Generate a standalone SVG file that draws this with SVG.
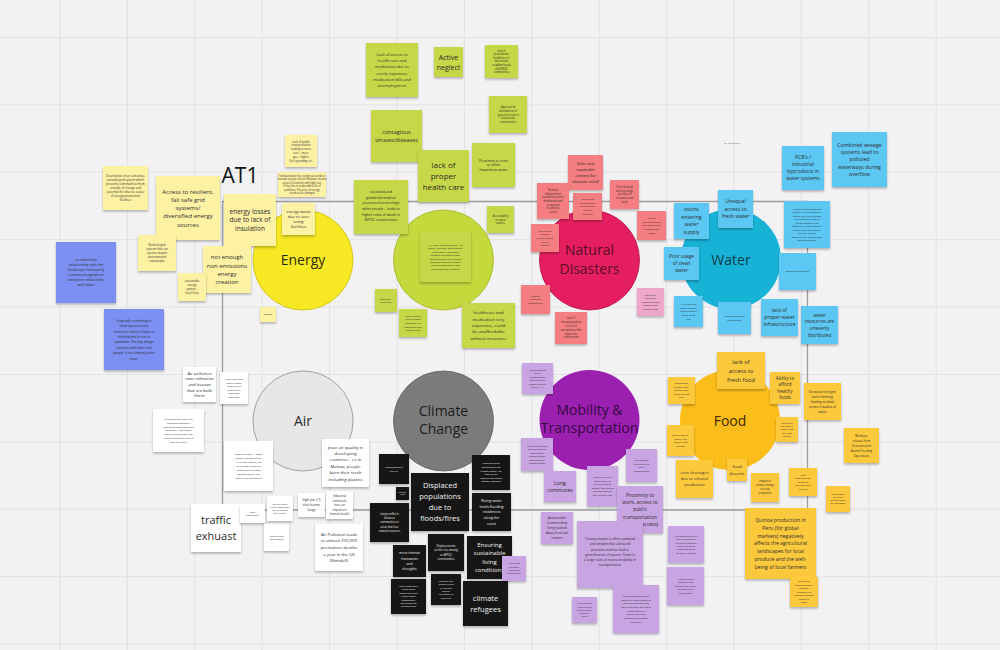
<svg xmlns="http://www.w3.org/2000/svg" width="1000" height="650" viewBox="0 0 1000 650">
<defs>
<filter id="sh" x="-20%" y="-20%" width="140%" height="150%"><feDropShadow dx="0" dy="1.6" stdDeviation="1.2" flood-color="#000" flood-opacity="0.28"/></filter>
<style>
text{font-family:"Open Sans","Liberation Sans",sans-serif;text-anchor:middle;fill:#2c2c2c}
.grid{stroke:#e1e1e6;stroke-width:1;fill:none}
.axis{stroke:#9c9c9c;stroke-width:1.3;fill:none}
.note rect{filter:url(#sh)}
.ey rect{fill:#fdf2a4}
.bl rect{fill:#7c8ff2}
.gr rect{fill:#c6d747}
.pk rect{fill:#f47e80}
.pl rect{fill:#eea7cb}
.wb rect{fill:#5cc7f3}
.fo rect{fill:#fcc93d}
.wh rect{fill:#ffffff}
.bk rect{fill:#121212}
.bk text{fill:#f4f4f4}
.lv rect{fill:#c9a4e2}
.lbl{font-size:14px}
</style>
</defs>
<rect width="1000" height="650" fill="#f2f2f4"/>
<path class="grid" d="M60 0V650M127.4 0V650M194.8 0V650M262.2 0V650M329.6 0V650M397 0V650M464.4 0V650M531.8 0V650M599.2 0V650M666.6 0V650M734 0V650M801.4 0V650M868.8 0V650M936.2 0V650M0 37.5H1000M0 104.9H1000M0 172.3H1000M0 239.7H1000M0 307.1H1000M0 374.5H1000M0 441.9H1000M0 509.3H1000M0 576.7H1000M0 644.1H1000"/>
<g id="connectors">
<path class="axis" d="M222.5 201.5H807.5V510H222.5Z"/>
</g>
<text x="240" y="183" style="font-size:21px;fill:#111">AT1</text>
<g id="circle-energy"><circle cx="303" cy="260" r="50" fill="#f6e823" stroke="#c9bb10" stroke-width="0.8"/><text class="lbl" x="303" y="265" style="fill:#2e2a00">Energy</text></g>
<g id="circle-health"><circle cx="443.5" cy="260" r="50" fill="#c4d93c" stroke="#a2b526" stroke-width="0.8"/></g>
<g id="circle-disasters"><circle cx="589.5" cy="260" r="50" fill="#e51f5f" stroke="#b8124a" stroke-width="0.8"/><text class="lbl" x="589.5" y="255" style="fill:#5a0b28">Natural<tspan x="589.5" dy="19">Disasters</tspan></text></g>
<g id="circle-water"><circle cx="731" cy="259" r="50" fill="#17b3d7"/><text class="lbl" x="731" y="265" style="fill:#0b3c4c">Water</text></g>
<g id="circle-air"><circle cx="303" cy="421" r="50" fill="#e7e7e7" stroke="#8e8e8e" stroke-width="0.8"/><text class="lbl" x="303" y="426">Air</text></g>
<g id="circle-climate"><circle cx="443.5" cy="421" r="50" fill="#7b7b7b" stroke="#5e5e5e" stroke-width="0.8"/><text class="lbl" x="443.5" y="416" style="fill:#1b1b1b">Climate<tspan x="443.5" dy="18">Change</tspan></text></g>
<g id="circle-mobility"><circle cx="589.5" cy="420" r="50" fill="#9b20b0"/><text class="lbl" x="589.5" y="415" style="fill:#35093f">Mobility &amp;<tspan x="589.5" dy="18">Transportation</tspan></text></g>
<g id="circle-food"><circle cx="730" cy="420" r="50" fill="#fbbd19"/><text class="lbl" x="730" y="426" style="fill:#3a2a00">Food</text></g>

<g id="E1" class="note ey"><rect x="103" y="166" width="45" height="44"/><text style="font-size:3px" x="125.5" y="177.1">Description of an extractive<tspan x="125.5" dy="4">national grid system which</tspan><tspan x="125.5" dy="4">prevents communities from</tspan><tspan x="125.5" dy="4">a mode of change and</tspan><tspan x="125.5" dy="4">potential for diverse scales</tspan><tspan x="125.5" dy="4">of energy production</tspan><tspan x="125.5" dy="4">facilities</tspan></text></g>
<g id="E2" class="note ey"><rect x="156" y="176" width="64" height="64"/><text style="font-size:6px" x="188" y="193.5">Access to resilient,<tspan x="188" dy="8.3">fail safe grid</tspan><tspan x="188" dy="8.3">systems/</tspan><tspan x="188" dy="8.3">diversified energy</tspan><tspan x="188" dy="8.3">sources</tspan></text></g>
<g id="E5" class="note ey"><rect x="285" y="135" width="32" height="32"/><text style="font-size:2.8px" x="301" y="142.5">Lack of public<tspan x="301" dy="3.8">transportation</tspan><tspan x="301" dy="3.8">leading to more</tspan><tspan x="301" dy="3.8">cars + more</tspan><tspan x="301" dy="3.8">gas = higher</tspan><tspan x="301" dy="3.8">fuel spending etc.</tspan></text></g>
<g id="E6" class="note ey"><rect x="278" y="172" width="48" height="25"/><text style="font-size:2.6px" x="302" y="176.9">Transportation for energy use tends to<tspan x="302" dy="3.4">increase people of less fortunate income</tspan><tspan x="302" dy="3.4">areas if electricity with high cost</tspan><tspan x="302" dy="3.4">if they live in areas with a lot of</tspan><tspan x="302" dy="3.4">pollution. The price of energy</tspan><tspan x="302" dy="3.4">needs to be changed</tspan></text></g>
<g id="E3" class="note ey"><rect x="224" y="194" width="52" height="52"/><text style="font-size:6.5px" x="250" y="213.8">energy losses<tspan x="250" dy="8.5">due to lack of</tspan><tspan x="250" dy="8.5">insulation</tspan></text></g>
<g id="E4" class="note ey"><rect x="282" y="203" width="33" height="32"/><text style="font-size:4px" x="298.5" y="212.6">energy waste<tspan x="298.5" dy="5.2">due to over</tspan><tspan x="298.5" dy="5.2">using</tspan><tspan x="298.5" dy="5.2">facilities</tspan></text></g>
<g id="E7" class="note ey"><rect x="138" y="235" width="38" height="36"/><text style="font-size:2.8px" x="157" y="246.4">Resilient grid<tspan x="157" dy="3.8">systems that can</tspan><tspan x="157" dy="3.8">operate despite</tspan><tspan x="157" dy="3.8">environmental</tspan><tspan x="157" dy="3.8">catastrophe</tspan></text></g>
<g id="E8" class="note ey"><rect x="203" y="246" width="48" height="47"/><text style="font-size:6px" x="227" y="259.2">not enough<tspan x="227" dy="8.3">non emissions</tspan><tspan x="227" dy="8.3">energy</tspan><tspan x="227" dy="8.3">creation</tspan></text></g>
<g id="E9" class="note ey"><rect x="178" y="273" width="28" height="28"/><text style="font-size:2.8px" x="192" y="282.3">sustainable<tspan x="192" dy="3.8">energy</tspan><tspan x="192" dy="3.8">options -</tspan><tspan x="192" dy="3.8">fossil fuels</tspan></text></g>
<g id="E10" class="note ey"><rect x="260" y="307" width="16" height="15"/><text style="font-size:2.2px" x="268" y="315.3">mapping</text></g>

<g id="B1" class="note bl"><rect x="56" y="242" width="60" height="61"/><text style="font-size:3.6px" x="86" y="261.3">an extractive<tspan x="86" dy="5">relationship with the</tspan><tspan x="86" dy="5">landscape necessarily</tspan><tspan x="86" dy="5">coexists alongside an</tspan><tspan x="86" dy="5">extractive relationship</tspan><tspan x="86" dy="5">with labor</tspan></text></g>
<g id="B2" class="note bl"><rect x="104" y="309" width="60" height="61"/><text style="font-size:3.2px" x="134" y="321.7">Especially something to<tspan x="134" dy="5.4">think about are the</tspan><tspan x="134" dy="5.4">extractive nature of labor in</tspan><tspan x="134" dy="5.4">the field and its ties to</tspan><tspan x="134" dy="5.4">capitalism. The way design</tspan><tspan x="134" dy="5.4">interacts with labor and</tspan><tspan x="134" dy="5.4">people. It is a climate justice</tspan><tspan x="134" dy="5.4">issue.</tspan></text></g>

<g id="H1" class="note gr"><rect x="366" y="43" width="52" height="54"/><text style="font-size:4px" x="392" y="55.7">Lack of access to<tspan x="392" dy="6.3">health care and</tspan><tspan x="392" dy="6.3">medication due to</tspan><tspan x="392" dy="6.3">overly expensive</tspan><tspan x="392" dy="6.3">medication bills and</tspan><tspan x="392" dy="6.3">unemployment</tspan></text></g>
<g id="H2" class="note gr"><rect x="434" y="47" width="29" height="30"/><text style="font-size:7px" x="448.5" y="59.5">Active<tspan x="448.5" dy="10">neglect</tspan></text></g>
<g id="H3" class="note gr"><rect x="485" y="45" width="33" height="33"/><text style="font-size:2.6px" x="501.5" y="51.6">lack of<tspan x="501.5" dy="3.6">preventative</tspan><tspan x="501.5" dy="3.6">healthcare in</tspan><tspan x="501.5" dy="3.6">low income</tspan><tspan x="501.5" dy="3.6">neighborhoods</tspan><tspan x="501.5" dy="3.6">and BIPOC</tspan><tspan x="501.5" dy="3.6">communities</tspan></text></g>
<g id="H4" class="note gr"><rect x="371" y="110" width="51" height="52"/><text style="font-size:5.6px" x="396.5" y="134.2">contagious<tspan x="396.5" dy="7.5">viruses/diseases</tspan></text></g>
<g id="H5" class="note gr"><rect x="489" y="96" width="38" height="37"/><text style="font-size:2.7px" x="508" y="108.1">Approval &amp;<tspan x="508" dy="3.7">distribution of</tspan><tspan x="508" dy="3.7">general needs in</tspan><tspan x="508" dy="3.7">low income</tspan><tspan x="508" dy="3.7">communities</tspan></text></g>
<g id="H7" class="note gr"><rect x="472" y="143" width="43" height="44"/><text style="font-size:3.6px" x="493.5" y="161.7">Proximity to toxic<tspan x="493.5" dy="4.6">or other</tspan><tspan x="493.5" dy="4.6">hazardous water</tspan></text></g>
<g id="H6" class="note gr"><rect x="418" y="150" width="51" height="52"/><text style="font-size:8px" x="443.5" y="168.1">lack of<tspan x="443.5" dy="10.7">proper</tspan><tspan x="443.5" dy="10.7">health care</tspan></text></g>
<g id="H8" class="note gr"><rect x="354" y="180" width="54" height="54"/><text style="font-size:3.5px" x="381" y="193.2">racialized and<tspan x="381" dy="5.6">gendered medical</tspan><tspan x="381" dy="5.6">practices that privilege</tspan><tspan x="381" dy="5.6">white people – leads to</tspan><tspan x="381" dy="5.6">higher rates of death in</tspan><tspan x="381" dy="5.6">BIPOC communities</tspan></text></g>
<g id="H9" class="note gr"><rect x="487" y="206" width="27" height="27"/><text style="font-size:2.8px" x="500.5" y="216.7">Accessibility<tspan x="500.5" dy="3.8">to open</tspan><tspan x="500.5" dy="3.8">spaces</tspan></text></g>
<g id="H10" class="note gr"><rect x="420" y="232" width="51" height="50"/><text style="font-size:2.3px" x="445.5" y="245.9">Air, Water and Food Quality - air<tspan x="445.5" dy="3.4">quality, pollution, discriminatory</tspan><tspan x="445.5" dy="3.4">drug testing, lead testing</tspan><tspan x="445.5" dy="3.4">between developed vs poor</tspan><tspan x="445.5" dy="3.4">neighborhoods. Their general</tspan><tspan x="445.5" dy="3.4">health and access to healthy</tspan><tspan x="445.5" dy="3.4">and processed foods. Food</tspan><tspan x="445.5" dy="3.4">deserts and lack of healthy</tspan></text></g>
<g id="H11" class="note gr"><rect x="375" y="289" width="22" height="23"/><text style="font-size:2.2px" x="386" y="299.8">Food safety /<tspan x="386" dy="3">health cost</tspan></text></g>
<g id="H12" class="note gr"><rect x="399" y="309" width="28" height="28"/><text style="font-size:2.5px" x="413" y="316.7">Mental health<tspan x="413" dy="3.6">from physical</tspan><tspan x="413" dy="3.6">spaces in the</tspan><tspan x="413" dy="3.6">workplace and</tspan><tspan x="413" dy="3.6">enough time</tspan></text></g>
<g id="H13" class="note gr"><rect x="462" y="303" width="53" height="45"/><text style="font-size:4.3px" x="488.5" y="314.4">healthcare and<tspan x="488.5" dy="6.3">medication very</tspan><tspan x="488.5" dy="6.3">expensive, could</tspan><tspan x="488.5" dy="6.3">be unaffordable</tspan><tspan x="488.5" dy="6.3">without insurance</tspan></text></g>

<g id="N1" class="note pk"><rect x="568" y="155" width="35" height="35"/><text style="font-size:4.2px" x="585.5" y="165">Safe and<tspan x="585.5" dy="6">equitable</tspan><tspan x="585.5" dy="6">centers for</tspan><tspan x="585.5" dy="6">disaster relief</tspan></text></g>
<g id="N4" class="note pk"><rect x="610" y="180" width="29" height="29"/><text style="font-size:2.6px" x="624.5" y="188.2">Toxic burning<tspan x="624.5" dy="3.6">destroys large</tspan><tspan x="624.5" dy="3.6">portions of</tspan><tspan x="624.5" dy="3.6">resources and</tspan><tspan x="624.5" dy="3.6">land</tspan></text></g>
<g id="N2" class="note pk"><rect x="537" y="183" width="32" height="36"/><text style="font-size:2.6px" x="553" y="191.1">Resilient<tspan x="553" dy="3.6">infrastructure</tspan><tspan x="553" dy="3.6">needed to protect</tspan><tspan x="553" dy="3.6">inhabitants and</tspan><tspan x="553" dy="3.6">ecosystem</tspan><tspan x="553" dy="3.6">in extreme</tspan><tspan x="553" dy="3.6">events</tspan></text></g>
<g id="N3" class="note pk"><rect x="573" y="193" width="29" height="27"/><text style="font-size:2.5px" x="587.5" y="200.2">The lack of<tspan x="587.5" dy="3.6">infrastructure</tspan><tspan x="587.5" dy="3.6">to withstand</tspan><tspan x="587.5" dy="3.6">natural</tspan><tspan x="587.5" dy="3.6">disasters</tspan></text></g>
<g id="N5" class="note pk"><rect x="637" y="211" width="29" height="29"/><text style="font-size:2.5px" x="651.5" y="219.2">Lack of<tspan x="651.5" dy="3.6">communication</tspan><tspan x="651.5" dy="3.6">and resources in</tspan><tspan x="651.5" dy="3.6">underserved</tspan><tspan x="651.5" dy="3.6">areas</tspan></text></g>
<g id="N6" class="note pk"><rect x="531" y="224" width="28" height="28"/><text style="font-size:2.5px" x="545" y="231.7">Insufficient<tspan x="545" dy="3.6">funds to</tspan><tspan x="545" dy="3.6">rebuild homes</tspan><tspan x="545" dy="3.6">after a</tspan><tspan x="545" dy="3.6">disaster</tspan></text></g>
<g id="N7" class="note pk"><rect x="521" y="285" width="29" height="29"/><text style="font-size:2.4px" x="535.5" y="296.9">Climate<tspan x="535.5" dy="3.4">vulnerable</tspan><tspan x="535.5" dy="3.4">communities</tspan></text></g>
<g id="N8" class="note pk"><rect x="555" y="312" width="32" height="32"/><text style="font-size:2.6px" x="571" y="319.4">Lack of<tspan x="571" dy="3.8">emergency plans</tspan><tspan x="571" dy="3.8">in case of</tspan><tspan x="571" dy="3.8">emergencies that</tspan><tspan x="571" dy="3.8">impact the</tspan><tspan x="571" dy="3.8">environment</tspan></text></g>
<g id="N9" class="note pl"><rect x="637" y="288" width="27" height="28"/><text style="font-size:2.4px" x="650.5" y="295.6">Long term<tspan x="650.5" dy="3.6">expensive</tspan><tspan x="650.5" dy="3.6">disaster-related</tspan><tspan x="650.5" dy="3.6">repairs in low-</tspan><tspan x="650.5" dy="3.6">income areas</tspan></text></g>

<text x="732" y="143.7" style="font-size:2px;fill:#666">key_stakeholders</text>
<g id="W1" class="note wb"><rect x="782" y="146" width="42" height="44"/><text style="font-size:5px" x="803" y="159.3">PCB's /<tspan x="803" dy="7">industrial</tspan><tspan x="803" dy="7">byproducts in</tspan><tspan x="803" dy="7">water systems</tspan></text></g>
<g id="W2" class="note wb"><rect x="832" y="132" width="55" height="55"/><text style="font-size:5.2px" x="859.5" y="146.5">Combined sewage<tspan x="859.5" dy="7.4">systems lead to</tspan><tspan x="859.5" dy="7.4">polluted</tspan><tspan x="859.5" dy="7.4">waterways during</tspan><tspan x="859.5" dy="7.4">overflow</tspan></text></g>
<g id="W3" class="note wb"><rect x="718" y="190" width="35" height="38"/><text style="font-size:5.2px" x="735.5" y="203.3">Unequal<tspan x="735.5" dy="7.5">access to</tspan><tspan x="735.5" dy="7.5">fresh water</tspan></text></g>
<g id="W4" class="note wb"><rect x="674" y="203" width="35" height="36"/><text style="font-size:5.2px" x="691.5" y="211">toxins<tspan x="691.5" dy="7.5">entering</tspan><tspan x="691.5" dy="7.5">water</tspan><tspan x="691.5" dy="7.5">supply</tspan></text></g>
<g id="W6" class="note wb"><rect x="784" y="201" width="46" height="47"/><text style="font-size:2.4px" x="807" y="209.6">A small underrepresented<tspan x="807" dy="3.5">minority of the community</tspan><tspan x="807" dy="3.5">without (or under) access</tspan><tspan x="807" dy="3.5">to clean water, such as</tspan><tspan x="807" dy="3.5">certain groups of the</tspan><tspan x="807" dy="3.5">community proudly owned</tspan><tspan x="807" dy="3.5">and children are unfairly</tspan><tspan x="807" dy="3.5">affected, leaving</tspan><tspan x="807" dy="3.5">opportunities for education</tspan><tspan x="807" dy="3.5">and development</tspan></text></g>
<g id="W5" class="note wb"><rect x="664" y="247" width="35" height="33"/><text style="font-size:4.8px" x="681.5" y="258.2">Poor usage<tspan x="681.5" dy="7">of clean</tspan><tspan x="681.5" dy="7">water</tspan></text></g>
<g id="W7" class="note wb"><rect x="779" y="253" width="37" height="37"/><text style="font-size:2.4px" x="797.5" y="272.4">access to clean water</text></g>
<g id="W10" class="note wb"><rect x="674" y="296" width="29" height="31"/><text style="font-size:2.5px" x="688.5" y="305.2">All (rural) lack<tspan x="688.5" dy="3.6">water to drink;</tspan><tspan x="688.5" dy="3.6">drinking water</tspan><tspan x="688.5" dy="3.6">prices is too</tspan><tspan x="688.5" dy="3.6">high</tspan></text></g>
<g id="W11" class="note wb"><rect x="718" y="302" width="33" height="32"/><text style="font-size:2.4px" x="734.5" y="317.2">Unequal access to<tspan x="734.5" dy="3.4">water supply</tspan></text></g>
<g id="W8" class="note wb"><rect x="761" y="299" width="37" height="37"/><text style="font-size:5px" x="779.5" y="312.3">lack of<tspan x="779.5" dy="7">proper water</tspan><tspan x="779.5" dy="7">infrastructure</tspan></text></g>
<g id="W9" class="note wb"><rect x="801" y="306" width="37" height="38"/><text style="font-size:4.6px" x="819.5" y="316.7">water<tspan x="819.5" dy="6.6">resources are</tspan><tspan x="819.5" dy="6.6">unevenly</tspan><tspan x="819.5" dy="6.6">distributed</tspan></text></g>

<g id="F1" class="note fo"><rect x="717" y="352" width="48" height="37"/><text style="font-size:5.8px" x="741" y="363.5">lack of<tspan x="741" dy="9">access to</tspan><tspan x="741" dy="9">fresh food</tspan></text></g>
<g id="F2" class="note fo"><rect x="668" y="377" width="27" height="27"/><text style="font-size:2.4px" x="681.5" y="384.4">Inaccessible<tspan x="681.5" dy="3.5">organic food,</tspan><tspan x="681.5" dy="3.5">organic food</tspan><tspan x="681.5" dy="3.5">prices are too</tspan><tspan x="681.5" dy="3.5">high</tspan></text></g>
<g id="F3" class="note fo"><rect x="770" y="372" width="30" height="32"/><text style="font-size:4.5px" x="785" y="379.9">Ability to<tspan x="785" dy="6.5">afford</tspan><tspan x="785" dy="6.5">healthy</tspan><tspan x="785" dy="6.5">foods</tspan></text></g>
<g id="F4" class="note fo"><rect x="804" y="383" width="37" height="37"/><text style="font-size:3.2px" x="822.5" y="392.6">Excessive nitrogen<tspan x="822.5" dy="5">use in farming,</tspan><tspan x="822.5" dy="5">leading to dead</tspan><tspan x="822.5" dy="5">zones in bodies of</tspan><tspan x="822.5" dy="5">water</tspan></text></g>
<g id="F5" class="note fo"><rect x="776" y="417" width="22" height="25"/><text style="font-size:2.2px" x="787" y="423.7">Affordability,<tspan x="787" dy="3.3">food quality,</tspan><tspan x="787" dy="3.3">quantity and</tspan><tspan x="787" dy="3.3">nutritional</tspan><tspan x="787" dy="3.3">content</tspan></text></g>
<g id="F6" class="note fo"><rect x="667" y="425" width="27" height="31"/><text style="font-size:2.4px" x="680.5" y="436">Lack of healthy,<tspan x="680.5" dy="3.6">cheap, and</tspan><tspan x="680.5" dy="3.6">healthy food</tspan><tspan x="680.5" dy="3.6">options</tspan></text></g>
<g id="F9" class="note fo"><rect x="844" y="428" width="35" height="35"/><text style="font-size:3px" x="861.5" y="436.6">Methane<tspan x="861.5" dy="5">release from</tspan><tspan x="861.5" dy="5">Concentrated</tspan><tspan x="861.5" dy="5">Animal Feeding</tspan><tspan x="861.5" dy="5">Operations</tspan></text></g>
<g id="F7" class="note fo"><rect x="676" y="460" width="37" height="38"/><text style="font-size:4px" x="694.5" y="474.4">corn shortages<tspan x="694.5" dy="6">due to ethanol</tspan><tspan x="694.5" dy="6">production</tspan></text></g>
<g id="F8" class="note fo"><rect x="727" y="459" width="20" height="22"/><text style="font-size:4.3px" x="737" y="468.3">food<tspan x="737" dy="6.5">deserts</tspan></text></g>
<g id="F10" class="note fo"><rect x="751" y="473" width="28" height="29"/><text style="font-size:2.6px" x="765" y="482.4">Impact of<tspan x="765" dy="4">climate change</tspan><tspan x="765" dy="4">on crop</tspan><tspan x="765" dy="4">production</tspan></text></g>
<g id="F11" class="note fo"><rect x="789" y="468" width="28" height="28"/><text style="font-size:2.2px" x="803" y="476">Food<tspan x="803" dy="3.4">production/agri</tspan><tspan x="803" dy="3.4">cannot be</tspan><tspan x="803" dy="3.4">dispersed (with</tspan><tspan x="803" dy="3.4">inflation)</tspan></text></g>
<g id="F12" class="note fo"><rect x="826" y="486" width="24" height="26"/><text style="font-size:2px" x="838" y="495.2">Unsustainable<tspan x="838" dy="3">agriculture</tspan><tspan x="838" dy="3">practices lead to</tspan><tspan x="838" dy="3">soil degradation</tspan></text></g>
<g id="F13" class="note fo"><rect x="745" y="508" width="71" height="71"/><text style="font-size:5.1px" x="780.5" y="522.3">Quinoa production in<tspan x="780.5" dy="7.7">Peru (for global</tspan><tspan x="780.5" dy="7.7">markets) negatively</tspan><tspan x="780.5" dy="7.7">affects the agricultural</tspan><tspan x="780.5" dy="7.7">landscapes for local</tspan><tspan x="780.5" dy="7.7">produce and the well-</tspan><tspan x="780.5" dy="7.7">being of local farmers</tspan></text></g>
<g id="F14" class="note fo"><rect x="790" y="577" width="28" height="30"/><text style="font-size:2.3px" x="804" y="582.3">Everything<tspan x="804" dy="3.5">produced locally</tspan><tspan x="804" dy="3.5">is mostly</tspan><tspan x="804" dy="3.5">exported and</tspan><tspan x="804" dy="3.5">cannot be bought</tspan><tspan x="804" dy="3.5">cheaply by</tspan><tspan x="804" dy="3.5">locals</tspan></text></g>

<g id="A1" class="note wh"><rect x="183" y="367" width="33" height="35"/><text style="font-size:4.2px" x="199.5" y="374.8">Air pollution<tspan x="199.5" dy="5.6">near refineries</tspan><tspan x="199.5" dy="5.6">and houses</tspan><tspan x="199.5" dy="5.6">that are built</tspan><tspan x="199.5" dy="5.6">there</tspan></text></g>
<g id="A2" class="note wh"><rect x="220" y="372" width="28" height="32"/><text style="font-size:2.4px" x="234" y="380.1">Trade deals and<tspan x="234" dy="3.5">waste trading</tspan><tspan x="234" dy="3.5">leaded to the</tspan><tspan x="234" dy="3.5">dumping of</tspan><tspan x="234" dy="3.5">dangerous</tspan><tspan x="234" dy="3.5">materials</tspan></text></g>
<g id="A3" class="note wh"><rect x="153" y="409" width="51" height="43"/><text style="font-size:2.4px" x="178.5" y="420.3">Living near pollution sites<tspan x="178.5" dy="3.7">increases chances of</tspan><tspan x="178.5" dy="3.7">developing conditions such</tspan><tspan x="178.5" dy="3.7">as asthma - low income</tspan><tspan x="178.5" dy="3.7">families tend to have high</tspan><tspan x="178.5" dy="3.7">rates of asthma as result of</tspan><tspan x="178.5" dy="3.7">poor air quality</tspan></text></g>
<g id="A4" class="note wh"><rect x="224" y="441" width="49" height="50"/><text style="font-size:2.5px" x="248.5" y="454.6">Smog air quality - smog<tspan x="248.5" dy="4.1">facing in certain areas,</tspan><tspan x="248.5" dy="4.1">i.e. in Los Angeles, the</tspan><tspan x="248.5" dy="4.1">air is blown from the</tspan><tspan x="248.5" dy="4.1">ocean and the smog</tspan><tspan x="248.5" dy="4.1">concentrates at the</tspan><tspan x="248.5" dy="4.1">base of the mountains</tspan></text></g>
<g id="A5" class="note wh"><rect x="322" y="439" width="47" height="48"/><text style="font-size:4.3px" x="345.5" y="448.5">poor air quality in<tspan x="345.5" dy="6.4">developing</tspan><tspan x="345.5" dy="6.4">countries - i.e in</tspan><tspan x="345.5" dy="6.4">Malawi, people</tspan><tspan x="345.5" dy="6.4">burn their trash</tspan><tspan x="345.5" dy="6.4">including plastics</tspan></text></g>
<g id="A11" class="note wh"><rect x="191" y="504" width="50" height="48"/><text style="font-size:11px" x="216" y="524.1">traffic<tspan x="216" dy="15.5">exhuast</tspan></text></g>
<g id="A12" class="note wh"><rect x="240" y="504" width="25" height="19"/><text style="font-size:2px" x="252.5" y="512.7">Rising<tspan x="252.5" dy="3">temperatures</tspan></text></g>
<g id="A6" class="note wh"><rect x="267" y="496" width="26" height="25"/><text style="font-size:2px" x="280" y="504.7">The link is more<tspan x="280" dy="3">hidden effects when</tspan><tspan x="280" dy="3">you live next to a</tspan><tspan x="280" dy="3">busy highway</tspan></text></g>
<g id="A7" class="note wh"><rect x="264" y="524" width="25" height="27"/><text style="font-size:2px" x="276.5" y="536.7">Noise pollution<tspan x="276.5" dy="3">from highways</tspan></text></g>
<g id="A8" class="note wh"><rect x="298" y="493" width="27" height="24"/><text style="font-size:3.3px" x="311.5" y="501.2">high pm 2.5<tspan x="311.5" dy="5">that harms</tspan><tspan x="311.5" dy="5">lungs</tspan></text></g>
<g id="A9" class="note wh"><rect x="326" y="491" width="27" height="28"/><text style="font-size:3px" x="339.5" y="497.1">Industrial<tspan x="339.5" dy="4.5">emissions</tspan><tspan x="339.5" dy="4.5">have an</tspan><tspan x="339.5" dy="4.5">impact on</tspan><tspan x="339.5" dy="4.5">human health</tspan></text></g>
<g id="A10" class="note wh"><rect x="315" y="524" width="48" height="47"/><text style="font-size:4.3px" x="339" y="535.8">Air Pollution leads<tspan x="339" dy="6.6">to almost 250,000</tspan><tspan x="339" dy="6.6">premature deaths</tspan><tspan x="339" dy="6.6">a year in the US</tspan><tspan x="339" dy="6.6">(Shindell)</tspan></text></g>

<g id="C1" class="note bk"><rect x="379" y="454" width="30" height="30"/><text style="font-size:2.3px" x="394" y="468.1">Displacement of<tspan x="394" dy="3.5">the city</tspan></text></g>
<g id="C5" class="note bk"><rect x="472" y="455" width="38" height="35"/><text style="font-size:2.3px" x="491" y="464.3">rising sea levels<tspan x="491" dy="3.6">displacement and</tspan><tspan x="491" dy="3.6">climate change - for</tspan><tspan x="491" dy="3.6">cities at risk</tspan><tspan x="491" dy="3.6">Families and homes</tspan><tspan x="491" dy="3.6">flooded, damaged</tspan></text></g>
<g id="C2" class="note bk"><rect x="411" y="473" width="58" height="58"/><text style="font-size:7.5px" x="440" y="488.1">Displaced<tspan x="440" dy="11">populations</tspan><tspan x="440" dy="11">due to</tspan><tspan x="440" dy="11">floods/fires</tspan></text></g>
<g id="C3" class="note bk"><rect x="396" y="487" width="13" height="13"/><text style="font-size:1.8px" x="402.5" y="492.9">Sea level<tspan x="402.5" dy="2.4">rising</tspan></text></g>
<g id="C4" class="note bk"><rect x="370" y="503" width="39" height="39"/><text style="font-size:2.6px" x="389.5" y="515">rising conflict in<tspan x="389.5" dy="4.2">between</tspan><tspan x="389.5" dy="4.2">communities in</tspan><tspan x="389.5" dy="4.2">areas that lose</tspan><tspan x="389.5" dy="4.2">natural resources</tspan></text></g>
<g id="C6" class="note bk"><rect x="472" y="493" width="39" height="38"/><text style="font-size:3.6px" x="491.5" y="501.7">Rising water<tspan x="491.5" dy="5.8">levels flooding</tspan><tspan x="491.5" dy="5.8">residences</tspan><tspan x="491.5" dy="5.8">along the</tspan><tspan x="491.5" dy="5.8">coast</tspan></text></g>
<g id="C8" class="note bk"><rect x="428" y="534" width="36" height="37"/><text style="font-size:2.8px" x="446" y="546.8">Displacements<tspan x="446" dy="4.5">on the rise among</tspan><tspan x="446" dy="4.5">as BIPOC</tspan><tspan x="446" dy="4.5">communities</tspan></text></g>
<g id="C7" class="note bk"><rect x="393" y="545" width="33" height="32"/><text style="font-size:3.4px" x="409.5" y="554.1">more intense<tspan x="409.5" dy="5.4">heatwaves</tspan><tspan x="409.5" dy="5.4">and</tspan><tspan x="409.5" dy="5.4">droughts</tspan></text></g>
<g id="C9" class="note bk"><rect x="467" y="536" width="45" height="43"/><text style="font-size:6px" x="489.5" y="546.9">Ensuring<tspan x="489.5" dy="8.5">sustainable</tspan><tspan x="489.5" dy="8.5">living</tspan><tspan x="489.5" dy="8.5">conditions</tspan></text></g>
<g id="C11" class="note bk"><rect x="431" y="574" width="30" height="31"/><text style="font-size:2.1px" x="446" y="581.8">Spread of new<tspan x="446" dy="3.4">diseases in new</tspan><tspan x="446" dy="3.4">or untested</tspan><tspan x="446" dy="3.4">climates</tspan><tspan x="446" dy="3.4">that migrate to</tspan><tspan x="446" dy="3.4">new areas</tspan></text></g>
<g id="C10" class="note bk"><rect x="391" y="579" width="35" height="35"/><text style="font-size:2px" x="408.5" y="587">Natural resources in<tspan x="408.5" dy="3.4">lack of change</tspan><tspan x="408.5" dy="3.4">through drilling and</tspan><tspan x="408.5" dy="3.4">related climate</tspan><tspan x="408.5" dy="3.4">consequences,</tspan><tspan x="408.5" dy="3.4">displacement and</tspan><tspan x="408.5" dy="3.4">vulnerable cities</tspan></text></g>
<g id="C12" class="note bk"><rect x="463" y="581" width="45" height="45"/><text style="font-size:7.5px" x="485.5" y="600.6">climate<tspan x="485.5" dy="11">refugees</tspan></text></g>

<g id="M1" class="note lv"><rect x="522" y="363" width="31" height="31"/><text style="font-size:2.3px" x="537.5" y="370.6">Lack of efficient<tspan x="537.5" dy="3.5">public</tspan><tspan x="537.5" dy="3.5">transportation,</tspan><tspan x="537.5" dy="3.5">not making for</tspan><tspan x="537.5" dy="3.5">people who can</tspan><tspan x="537.5" dy="3.5">afford it, i.e.</tspan></text></g>
<g id="M2" class="note lv"><rect x="521" y="438" width="32" height="33"/><text style="font-size:2.3px" x="537" y="446.6">No direct roadmap<tspan x="537" dy="3.5">to places that are</tspan><tspan x="537" dy="3.5">neighboring</tspan><tspan x="537" dy="3.5">freeway across</tspan><tspan x="537" dy="3.5">Black and POC</tspan><tspan x="537" dy="3.5">neighborhoods</tspan></text></g>
<g id="M5" class="note lv"><rect x="626" y="449" width="31" height="33"/><text style="font-size:2.3px" x="641.5" y="461.1">Get access to<tspan x="641.5" dy="3.5">ride and drive</tspan><tspan x="641.5" dy="3.5">public</tspan><tspan x="641.5" dy="3.5">transportation</tspan></text></g>
<g id="M4" class="note lv"><rect x="587" y="466" width="31" height="40"/><text style="font-size:2.3px" x="602.5" y="478.1">Lack of ability for<tspan x="602.5" dy="3.5">people who live</tspan><tspan x="602.5" dy="3.5">in rural areas to</tspan><tspan x="602.5" dy="3.5">discover and connect</tspan><tspan x="602.5" dy="3.5">with jobs far from</tspan><tspan x="602.5" dy="3.5">their current area</tspan></text></g>
<g id="M3" class="note lv"><rect x="544" y="471" width="32" height="31"/><text style="font-size:5.2px" x="560" y="484.6">Long<tspan x="560" dy="7.5">commutes</tspan></text></g>
<g id="M6" class="note lv"><rect x="617" y="486" width="46" height="47"/><text style="font-size:5px" x="640" y="496.7">Proximity to<tspan x="640" dy="7.3">work, access to</tspan><tspan x="640" dy="7.3">public</tspan><tspan x="640" dy="7.3">transportation</tspan><tspan x="640" dy="7.3">(inequal access)</tspan></text></g>
<g id="M7" class="note lv"><rect x="541" y="512" width="32" height="32"/><text style="font-size:3.3px" x="557" y="519.2">Automobile<tspan x="557" dy="5">commanding</tspan><tspan x="557" dy="5">living pushed</tspan><tspan x="557" dy="5">Away from job</tspan><tspan x="557" dy="5">centers</tspan></text></g>
<g id="M8" class="note lv"><rect x="577" y="521" width="66" height="67"/><text style="font-size:3.3px" x="610" y="539.9">Transportation is often outdated<tspan x="610" dy="5.3">and designed by old world</tspan><tspan x="610" dy="5.3">priorities and has lead to</tspan><tspan x="610" dy="5.3">gentrification of spaces. There is</tspan><tspan x="610" dy="5.3">a larger lack of maneuverability in</tspan><tspan x="610" dy="5.3">transportation</tspan></text></g>
<g id="M9" class="note lv"><rect x="668" y="526" width="36" height="37"/><text style="font-size:2.2px" x="686" y="536.8">The communities with<tspan x="686" dy="3.4">low to no access to</tspan><tspan x="686" dy="3.4">alternative modes of</tspan><tspan x="686" dy="3.4">energy to vehicles</tspan><tspan x="686" dy="3.4">transportation but</tspan><tspan x="686" dy="3.4">use public transport</tspan></text></g>
<g id="M13" class="note lv"><rect x="502" y="556" width="24" height="25"/><text style="font-size:2px" x="514" y="564.4">Higher fares<tspan x="514" dy="3.2">and longer</tspan><tspan x="514" dy="3.2">travel times</tspan><tspan x="514" dy="3.2">for low income</tspan></text></g>
<g id="M10" class="note lv"><rect x="667" y="567" width="37" height="38"/><text style="font-size:2.2px" x="685.5" y="580">Access to viable<tspan x="685.5" dy="3.4">commutes and</tspan><tspan x="685.5" dy="3.4">transportation affects</tspan><tspan x="685.5" dy="3.4">all under-served</tspan><tspan x="685.5" dy="3.4">income levels</tspan></text></g>
<g id="M11" class="note lv"><rect x="613" y="585" width="46" height="48"/><text style="font-size:2.3px" x="636" y="596.9">Ease of transportation is<tspan x="636" dy="3.7">affected by gentrification as</tspan><tspan x="636" dy="3.7">lots of the suburbs move</tspan><tspan x="636" dy="3.7">away from cities, they move</tspan><tspan x="636" dy="3.7">further away to</tspan><tspan x="636" dy="3.7">further, and public</tspan><tspan x="636" dy="3.7">transportation doesn't</tspan><tspan x="636" dy="3.7">follow out</tspan></text></g>
<g id="M12" class="note lv"><rect x="572" y="597" width="25" height="26"/><text style="font-size:2px" x="584.5" y="604.3">Public transport<tspan x="584.5" dy="3.2">is not made for</tspan><tspan x="584.5" dy="3.2">people who are</tspan><tspan x="584.5" dy="3.2">disabled or</tspan><tspan x="584.5" dy="3.2">elderly</tspan></text></g>
</svg>
